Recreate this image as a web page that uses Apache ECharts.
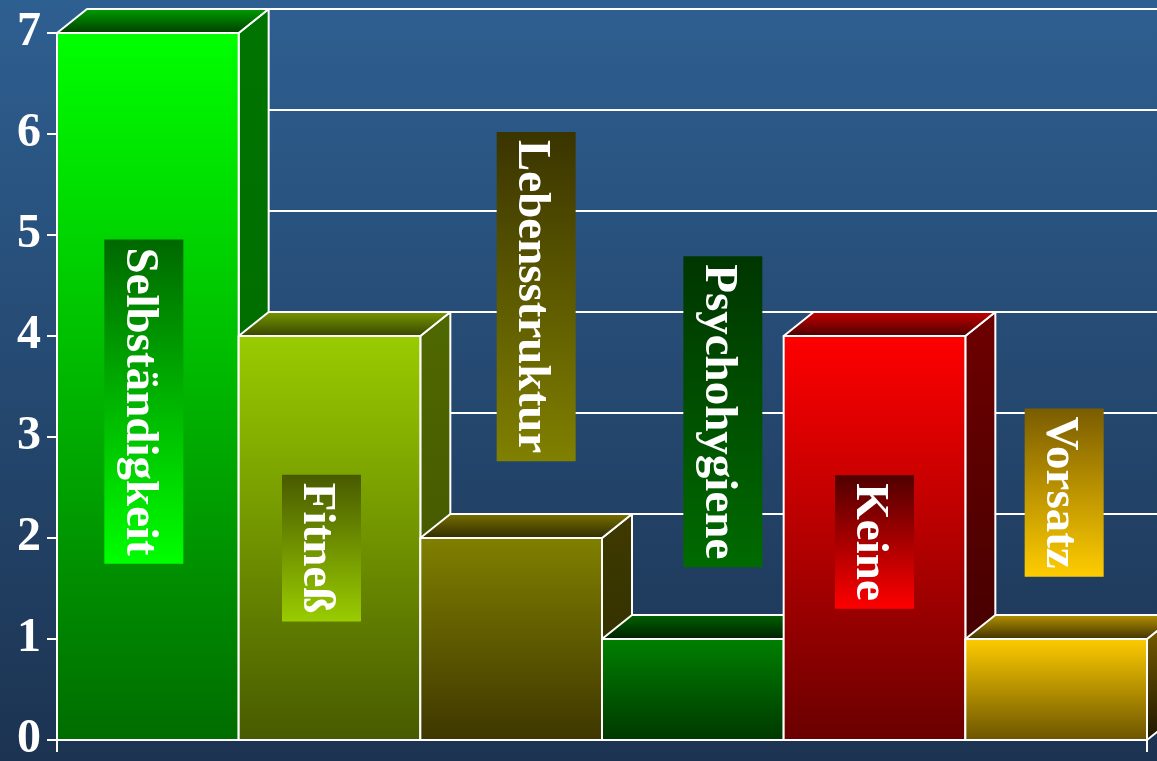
<!DOCTYPE html>
<html>
<head>
<meta charset="utf-8">
<script src="https://cdn.jsdelivr.net/npm/echarts@6/dist/echarts.min.js"></script>
<style>
html,body{margin:0;padding:0;}
#main{width:1157px;height:761px;}
</style>
</head>
<body>
<div id="main"></div>
<script>
// Daten
var categories = ['Selbständigkeit', 'Fitneß', 'Lebensstruktur', 'Psychohygiene', 'Keine', 'Vorsatz'];
var values = [7, 4, 2, 1, 4, 1];
var yTicks = ['0', '1', '2', '3', '4', '5', '6', '7'];

// Optik
var depthX = 30, depthY = -24;
var serif = '"Liberation Serif", "Times New Roman", serif';
var tagFont = 'bold 47px ' + serif;
var faces = [
	{front: ['#00ff00', '#006c00'], top: ['#00a000', '#003c00'], side: ['#007400', '#006800']},
	{front: ['#99cc00', '#485a00'], top: ['#789800', '#364400'], side: ['#506800', '#3e5000']},
	{front: ['#808000', '#3e3600'], top: ['#7a7200', '#2e2a00'], side: ['#3e3a00', '#2f2c00']},
	{front: ['#008000', '#003800'], top: ['#006400', '#001e00'], side: ['#003400', '#002200']},
	{front: ['#ff0000', '#6a0000'], top: ['#c80000', '#4a0000'], side: ['#6e0000', '#3a0000']},
	{front: ['#ffcc00', '#6a5400'], top: ['#b89400', '#3e3000'], side: ['#806400', '#1e1600']}
];
// Beschriftungskästen: Mitte (in Achsenwerten), seitlicher Versatz in px, Verlauf
var tags = [
	{mid: 3.35, dx: -4, colors: ['#006800', '#00ff00']},
	{mid: 1.90, dx: -8, colors: ['#485a00', '#99cc00']},
	{mid: 4.39, dx: 25, colors: ['#3a3400', '#808000']},
	{mid: 3.25, dx: 30, colors: ['#003600', '#006a00']},
	{mid: 1.96, dx: 0, colors: ['#500000', '#ff0000']},
	{mid: 2.45, dx: 8, colors: ['#7a5c00', '#ffcc00']}
];

var measure = document.createElement('canvas').getContext('2d');
measure.font = tagFont;

function vgrad(c) {
	return new echarts.graphic.LinearGradient(0, 0, 0, 1, [
		{offset: 0, color: c[0]},
		{offset: 1, color: c[1]}
	]);
}

function edged(fill) {
	return {fill: fill, stroke: '#ffffff', lineWidth: 2, lineJoin: 'round'};
}

function renderBox(params, api) {
	var i = api.value(0), v = api.value(1);
	var base = api.coord([i, 0]);
	var head = api.coord([i, v]);
	var bw = api.size([1, 0])[0];
	var x0 = base[0] - bw / 2, x1 = base[0] + bw / 2;
	var yb = base[1], yt = head[1];
	var f = faces[i];
	return {
		type: 'group',
		children: [
			{type: 'polygon', shape: {points: [[x1, yt], [x1 + depthX, yt + depthY], [x1 + depthX, yb + depthY], [x1, yb]]}, style: edged(vgrad(f.side))},
			{type: 'polygon', shape: {points: [[x0, yt], [x0 + depthX, yt + depthY], [x1 + depthX, yt + depthY], [x1, yt]]}, style: edged(vgrad(f.top))},
			{type: 'rect', shape: {x: x0, y: yt, width: bw, height: yb - yt}, style: edged(vgrad(f.front))}
		]
	};
}

function renderTag(params, api) {
	var i = api.value(0);
	var t = tags[i];
	var c = api.coord([i, t.mid]);
	var cx = c[0] + t.dx, cy = c[1];
	var name = categories[i];
	var h = measure.measureText(name).width + 16;
	var w = 79;
	return {
		type: 'group',
		children: [
			{type: 'rect', shape: {x: cx - w / 2, y: cy - h / 2, width: w, height: h}, style: {fill: vgrad(t.colors)}},
			{type: 'text', x: cx - 5, y: cy, rotation: -Math.PI / 2,
				style: {text: name, fill: '#ffffff', font: tagFont, align: 'center', verticalAlign: 'middle'}}
		]
	};
}

var chart = echarts.init(document.getElementById('main'));
var points = values.map(function (v, i) { return [i, v]; });

var option = {
	backgroundColor: {
		type: 'linear', x: 0, y: 0, x2: 0, y2: 1,
		colorStops: [{offset: 0, color: '#2e5f91'}, {offset: 1, color: '#1c3351'}]
	},
	animation: false,
	grid: [
		{left: 57, right: 10, top: 33, bottom: 21, outerBoundsMode: 'none'},
		// Rückwand mit den Gitterlinien, um die Tiefe versetzt
		{left: 57 + depthX, right: 10 - depthX - 10, top: 33 + depthY, bottom: 21 - depthY, outerBoundsMode: 'none'}
	],
	xAxis: [
		{
			type: 'category',
			data: categories,
			gridIndex: 0,
			axisLabel: {show: false},
			axisLine: {show: true, lineStyle: {color: '#ffffff', width: 2}},
			axisTick: {
				show: true, length: 12,
				interval: function (index) { return index === 0; },
				lineStyle: {color: '#ffffff', width: 2}
			},
			splitLine: {show: false}
		},
		{type: 'value', gridIndex: 1, show: false}
	],
	yAxis: [
		{
			type: 'value', gridIndex: 0, min: 0, max: 7, interval: 1,
			axisLine: {show: true, lineStyle: {color: '#ffffff', width: 2}},
			axisTick: {show: true, length: 10, lineStyle: {color: '#ffffff', width: 2}},
			axisLabel: {
				color: '#ffffff', fontSize: 48, fontWeight: 'bold', fontFamily: serif, margin: 16,
				formatter: function (v) { return yTicks[v]; }
			},
			splitLine: {show: false}
		},
		{
			type: 'value', gridIndex: 1, min: 0, max: 7, interval: 1,
			axisLine: {show: false}, axisTick: {show: false}, axisLabel: {show: false},
			splitLine: {show: true, lineStyle: {color: '#ffffff', width: 2}}
		}
	],
	series: [
		{type: 'custom', xAxisIndex: 0, yAxisIndex: 0, renderItem: renderBox, data: points, z: 3},
		{type: 'custom', xAxisIndex: 0, yAxisIndex: 0, renderItem: renderTag, data: points, z: 5}
	]
};
chart.setOption(option);
</script>
</body>
</html>
